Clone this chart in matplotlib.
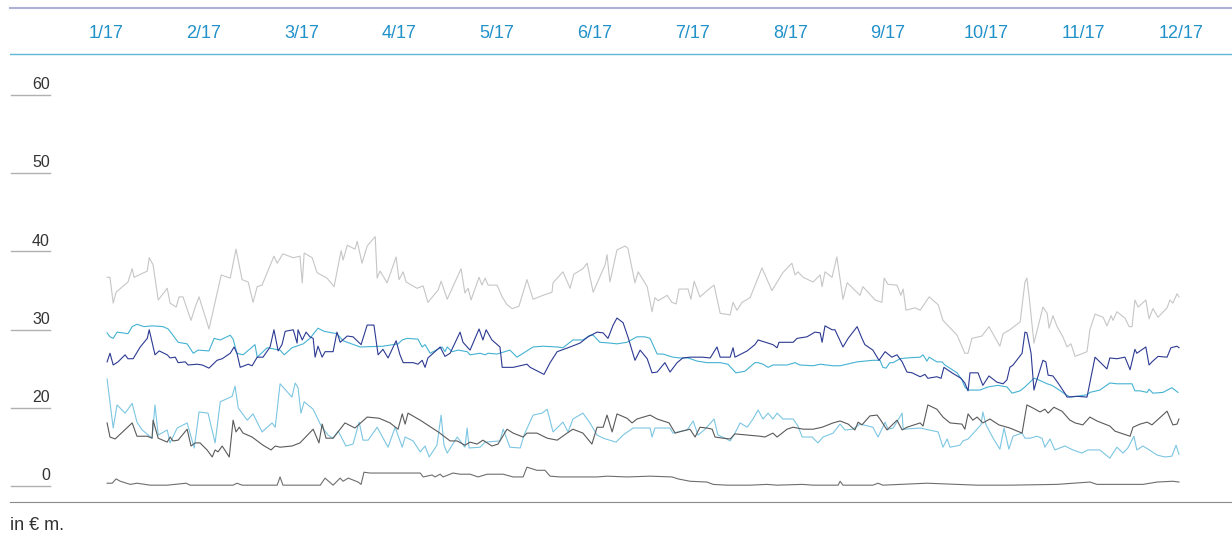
import numpy as np
import matplotlib
matplotlib.use('Agg')
from matplotlib import pyplot as plt

plt.rcParams['font.family'] = ['Liberation Sans', 'DejaVu Sans']

# x = day of the period (0 = 1/17), y = value in EUR m
gray_top = [(0.3, 36.7), (1.2, 36.7), (2.2, 33.4), (3.1, 34.8), (6.8, 36.1), (8.1, 37.8), (8.7, 36.7), (12.8, 37.5),
            (13.4, 39.2), (14.6, 38.3), (16.2, 33.8), (19.0, 35.3), (19.9, 33.4), (21.8, 32.9), (22.7, 34.2),
            (23.9, 34.2), (26.4, 31.2), (27.7, 32.9), (28.9, 34.2), (32.0, 30.1), (35.8, 37.0), (38.6, 36.6),
            (40.4, 40.3), (42.3, 36.4), (44.2, 36.1), (45.7, 33.5), (47.0, 35.5), (48.5, 35.7), (52.2, 39.4),
            (53.2, 38.5), (55.0, 39.7), (58.2, 39.2), (60.3, 39.4), (61.0, 36.0), (61.6, 39.8), (64.1, 39.2),
            (65.6, 37.3), (68.7, 36.6), (70.9, 35.5), (73.1, 40.1), (73.7, 38.9), (75.0, 40.8), (77.4, 40.3),
            (78.1, 41.3), (79.6, 38.5), (81.2, 40.7), (83.7, 41.9), (84.3, 36.6), (85.2, 37.5), (87.4, 36.0),
            (90.2, 39.3), (91.1, 36.4), (92.4, 37.4), (93.3, 36.1), (96.7, 35.3), (98.6, 35.6), (100.1, 33.5),
            (103.3, 35.1), (104.2, 36.2), (106.1, 33.9), (110.4, 37.8), (111.6, 34.7), (112.6, 35.3), (113.5, 33.8),
            (116.0, 36.7), (116.9, 35.7), (117.9, 36.6), (118.8, 35.7), (121.6, 35.7), (123.2, 34.2), (124.7, 33.2),
            (126.3, 32.7), (128.4, 33.0), (130.9, 36.4), (132.8, 33.9), (135.9, 34.4), (138.7, 34.8), (139.0, 36.0),
            (142.1, 37.4), (144.3, 35.3), (145.5, 37.1), (148.3, 37.8), (149.6, 38.5), (151.5, 34.8), (155.2, 38.3),
            (155.8, 39.6), (156.7, 36.1), (158.9, 40.2), (161.4, 40.7), (162.3, 40.4), (164.5, 36.0), (165.5, 37.4),
            (168.3, 35.5), (169.8, 32.3), (170.7, 34.1), (171.7, 33.7), (174.5, 34.4), (176.0, 33.5), (177.3, 33.3),
            (178.2, 35.2), (181.0, 35.2), (181.9, 33.9), (182.9, 36.2), (184.7, 34.2), (187.5, 35.2), (189.1, 35.7),
            (191.0, 32.1), (194.1, 31.9), (195.0, 33.5), (196.2, 32.5), (197.8, 33.5), (200.3, 34.1), (204.0, 37.9),
            (207.1, 35.0), (210.5, 37.3), (213.3, 38.5), (214.3, 37.0), (215.2, 37.4), (216.8, 36.7), (219.9, 36.1),
            (222.1, 37.0), (222.7, 35.5), (223.6, 37.4), (225.8, 36.7), (227.3, 39.3), (229.2, 33.9), (230.5, 36.0),
            (234.5, 34.4), (235.4, 35.5), (239.2, 33.8), (241.3, 33.5), (242.0, 36.6), (243.2, 35.8), (246.0, 35.7),
            (247.2, 34.4), (247.9, 35.2), (248.8, 32.5), (251.6, 32.8), (253.2, 32.5), (256.0, 34.2), (258.8, 33.2),
            (260.3, 31.2), (264.7, 29.3), (267.1, 27.0), (268.1, 27.0), (269.3, 28.9), (272.4, 29.2), (274.6, 30.4),
            (278.0, 27.9), (279.0, 29.5), (281.1, 30.0), (284.3, 31.0), (285.8, 36.1), (286.4, 36.6), (287.1, 34.2),
            (288.6, 28.3), (291.4, 32.9), (292.7, 32.1), (293.3, 30.2), (294.5, 31.8), (295.8, 30.4), (297.6, 29.1),
            (298.9, 27.8), (300.1, 28.2), (301.4, 26.6), (305.1, 27.2), (306.0, 30.0), (307.6, 32.0), (310.1, 31.6),
            (311.3, 30.5), (312.6, 31.8), (313.2, 31.2), (314.4, 32.3), (316.9, 31.5), (318.2, 30.4), (319.1, 30.4),
            (320.0, 33.8), (321.0, 32.9), (323.4, 33.8), (324.4, 31.4), (325.6, 32.7), (327.2, 31.6), (330.0, 32.8),
            (330.9, 33.8), (331.8, 33.4), (333.1, 34.6), (333.7, 34.2)]

teal = [(0.3, 29.6), (1.2, 29.1), (2.2, 28.9), (3.4, 29.7), (6.8, 29.5), (8.1, 30.4), (9.6, 30.7), (11.8, 30.4),
        (14.3, 30.5), (17.7, 30.4), (19.3, 30.1), (20.8, 29.3), (22.4, 28.4), (25.2, 28.2), (27.1, 27.0),
        (28.6, 27.4), (32.0, 27.3), (33.6, 28.9), (35.5, 28.7), (38.6, 29.3), (39.5, 28.8), (40.7, 27.0),
        (42.6, 26.8), (46.3, 28.1), (47.0, 26.5), (50.1, 27.7), (54.1, 27.4), (55.4, 26.8), (57.8, 27.7),
        (61.3, 28.2), (63.4, 28.9), (65.9, 30.2), (67.8, 29.8), (71.8, 29.5), (73.7, 28.6), (79.0, 27.8),
        (86.1, 27.9), (90.8, 28.2), (92.1, 28.7), (93.6, 28.9), (97.0, 28.8), (98.3, 27.8), (99.2, 28.1),
        (100.8, 27.0), (104.5, 27.8), (105.4, 27.2), (106.1, 27.8), (107.6, 27.2), (109.5, 27.4), (112.3, 27.2),
        (113.2, 26.8), (116.3, 27.0), (117.9, 26.8), (118.8, 27.0), (121.6, 26.9), (125.6, 27.4), (127.8, 26.5),
        (129.7, 27.0), (132.8, 27.8), (135.9, 27.9), (140.3, 27.8), (142.1, 27.7), (145.2, 28.7), (148.3, 28.7),
        (150.5, 29.3), (151.5, 29.3), (153.6, 28.4), (156.7, 28.3), (158.9, 28.2), (162.0, 28.4), (165.1, 29.1),
        (167.6, 29.1), (169.2, 28.9), (171.4, 26.9), (173.2, 26.9), (176.3, 26.5), (178.5, 26.4), (181.0, 26.4),
        (183.8, 26.0), (186.9, 25.8), (191.0, 25.8), (193.4, 25.6), (195.9, 24.5), (198.7, 24.7), (201.8, 25.8),
        (202.8, 25.8), (204.3, 25.6), (205.9, 25.2), (207.4, 25.5), (211.8, 25.5), (214.3, 25.8), (215.8, 25.5),
        (219.9, 25.4), (222.1, 25.6), (226.1, 25.4), (228.3, 25.4), (233.6, 25.9), (238.5, 26.1), (240.7, 26.1),
        (241.6, 25.2), (242.6, 25.1), (243.8, 25.8), (244.8, 25.8), (246.9, 26.3), (249.1, 26.4), (253.2, 26.5),
        (254.1, 26.8), (255.3, 26.0), (256.0, 26.5), (258.4, 25.9), (260.0, 25.9), (260.9, 25.5), (264.7, 24.5),
        (266.2, 23.6), (267.1, 22.7), (268.1, 22.3), (271.8, 22.3), (274.3, 22.7), (277.4, 22.9), (280.2, 22.7),
        (281.8, 21.9), (284.3, 22.2), (285.8, 22.7), (288.6, 23.8), (289.5, 23.7), (292.7, 23.1), (294.2, 22.9),
        (296.1, 22.4), (298.2, 21.8), (299.8, 21.4), (302.0, 21.5), (305.1, 21.7), (306.0, 22.0), (309.1, 22.3),
        (312.2, 23.2), (314.4, 23.1), (319.1, 23.1), (320.0, 22.2), (321.6, 22.2), (323.8, 22.0), (324.4, 22.4),
        (325.6, 21.9), (328.7, 22.0), (331.5, 22.6), (333.4, 22.0)]

navy = [(0.3, 25.9), (1.2, 27.0), (2.2, 25.5), (3.7, 25.9), (5.9, 26.8), (6.8, 26.3), (8.4, 26.3), (10.6, 27.8),
        (12.8, 28.9), (13.4, 30.0), (15.2, 26.8), (16.5, 27.3), (19.0, 26.8), (19.9, 26.4), (21.5, 26.5),
        (22.4, 25.8), (24.6, 25.9), (25.5, 25.5), (28.3, 25.6), (29.9, 25.5), (32.0, 25.1), (34.5, 26.1),
        (36.1, 26.3), (38.6, 27.0), (39.8, 27.8), (40.7, 27.0), (41.7, 25.2), (44.2, 25.6), (45.4, 25.4),
        (47.0, 26.5), (48.8, 26.5), (51.0, 27.8), (52.2, 30.0), (53.5, 27.3), (54.7, 28.1), (55.7, 29.8),
        (58.2, 30.0), (59.4, 28.3), (59.7, 30.0), (61.0, 28.7), (62.2, 29.7), (63.4, 29.1), (64.4, 28.9),
        (65.0, 26.5), (65.9, 27.9), (67.2, 26.5), (68.1, 27.2), (70.6, 27.2), (71.8, 29.7), (72.8, 28.4),
        (75.0, 29.2), (76.8, 29.1), (79.3, 28.1), (81.2, 30.6), (83.3, 30.6), (84.6, 26.8), (86.1, 27.5),
        (87.7, 26.4), (90.2, 28.6), (91.4, 26.8), (92.4, 25.8), (95.5, 25.8), (97.0, 25.6), (98.3, 26.1),
        (99.2, 25.2), (100.1, 26.4), (103.9, 27.8), (105.4, 26.6), (107.0, 27.0), (110.1, 29.7), (111.0, 28.4),
        (113.2, 27.4), (116.0, 30.1), (117.2, 28.7), (118.2, 30.0), (120.0, 28.7), (122.5, 27.8), (123.2, 25.2),
        (126.6, 25.2), (130.9, 25.6), (131.9, 25.2), (136.2, 24.3), (138.1, 25.8), (140.3, 27.2), (144.3, 27.8),
        (147.4, 28.3), (149.9, 29.1), (152.7, 29.7), (154.6, 29.6), (156.1, 28.9), (157.7, 30.6), (158.9, 31.5),
        (160.8, 30.9), (162.3, 29.1), (164.5, 26.1), (166.1, 27.4), (168.3, 26.3), (169.8, 24.5), (171.4, 24.6),
        (173.8, 25.8), (175.4, 24.6), (177.6, 25.8), (179.4, 26.4), (181.6, 26.5), (185.4, 26.5), (187.9, 26.4),
        (190.0, 27.8), (191.0, 26.5), (194.1, 26.5), (195.0, 27.7), (195.6, 26.5), (199.4, 27.3), (201.8, 28.1),
        (202.8, 28.7), (207.4, 28.1), (208.7, 27.7), (209.3, 28.4), (213.7, 28.4), (214.9, 28.9), (218.0, 29.1),
        (220.5, 29.7), (222.1, 29.6), (222.7, 28.4), (223.6, 30.5), (225.8, 30.0), (226.7, 30.0), (229.2, 27.8),
        (230.8, 28.9), (233.6, 30.4), (235.1, 28.9), (236.0, 28.1), (238.5, 27.4), (240.4, 26.1), (242.3, 27.2),
        (244.4, 26.5), (246.0, 26.8), (247.6, 25.9), (249.1, 24.6), (250.7, 24.5), (253.2, 24.0), (254.7, 24.3),
        (255.6, 23.8), (258.4, 24.0), (259.7, 23.8), (260.6, 25.2), (263.1, 24.5), (265.9, 23.8), (267.1, 23.2),
        (268.1, 22.2), (268.7, 24.5), (271.2, 24.5), (272.7, 22.9), (274.6, 24.1), (277.1, 23.3), (279.0, 23.1),
        (280.2, 23.6), (281.1, 25.2), (282.1, 25.5), (284.9, 27.0), (285.8, 29.7), (286.4, 29.6), (287.7, 27.0),
        (288.6, 22.3), (289.2, 23.2), (291.4, 26.1), (292.3, 25.9), (293.0, 24.2), (294.5, 24.1), (296.1, 23.2),
        (298.2, 21.9), (298.9, 21.4), (302.0, 21.5), (305.1, 21.4), (307.6, 26.5), (311.3, 25.0), (312.2, 26.4),
        (314.4, 26.3), (316.9, 26.5), (318.5, 24.9), (320.0, 27.5), (320.6, 27.0), (323.4, 27.8), (324.4, 25.5),
        (325.3, 25.9), (327.2, 26.6), (330.0, 26.5), (331.2, 27.7), (333.1, 27.9), (333.7, 27.7)]

light_blue = [(0.3, 23.7), (2.2, 14.9), (3.4, 20.4), (5.9, 18.7), (8.1, 20.6), (9.6, 16.4), (11.2, 14.4),
              (14.3, 12.3), (15.2, 20.4), (16.2, 13.1), (19.0, 14.4), (19.9, 11.1), (22.1, 14.9), (25.2, 16.2),
              (27.4, 9.8), (28.9, 19.0), (31.7, 18.7), (33.9, 11.1), (35.5, 20.8), (39.2, 21.5), (40.1, 22.8),
              (41.1, 20.0), (43.9, 16.9), (45.7, 18.5), (48.5, 13.9), (51.6, 16.2), (52.6, 15.1), (54.1, 23.1),
              (57.8, 21.4), (58.8, 23.2), (59.7, 22.6), (60.6, 18.7), (61.6, 20.8), (64.4, 19.7), (66.9, 15.4),
              (69.0, 13.1), (70.6, 12.3), (72.2, 14.1), (74.6, 10.3), (76.8, 10.8), (78.7, 16.4), (79.9, 11.8),
              (81.5, 11.8), (84.3, 15.1), (87.7, 10.0), (89.9, 15.1), (92.1, 10.0), (93.0, 12.6), (95.5, 11.6),
              (97.7, 8.8), (99.2, 10.3), (100.5, 7.5), (102.9, 10.5), (104.2, 18.2), (105.1, 10.5), (106.1, 8.5),
              (109.2, 12.6), (111.6, 10.0), (112.3, 14.9), (112.9, 9.8), (116.3, 10.0), (117.9, 11.3), (122.5, 11.6),
              (123.5, 14.6), (125.6, 10.0), (128.8, 9.8), (130.0, 13.1), (132.8, 18.2), (135.6, 18.7), (137.2, 19.7),
              (139.0, 13.9), (142.1, 16.4), (143.7, 13.9), (145.2, 17.2), (148.3, 18.7), (150.5, 16.2), (152.7, 13.1),
              (154.6, 12.3), (158.6, 11.3), (160.8, 13.1), (163.9, 14.9), (169.2, 14.9), (169.8, 12.6), (170.7, 14.9),
              (175.4, 14.9), (176.3, 13.6), (180.7, 14.4), (182.6, 16.7), (184.1, 13.1), (186.3, 14.6), (189.1, 17.2),
              (190.3, 13.1), (192.5, 12.3), (194.1, 11.6), (195.6, 13.6), (197.2, 16.2), (199.4, 15.1), (201.2, 17.2),
              (202.8, 19.5), (204.3, 17.2), (205.9, 18.7), (207.4, 17.2), (208.7, 18.7), (210.5, 17.2), (213.7, 17.2),
              (215.2, 15.4), (216.5, 12.6), (219.6, 12.6), (221.4, 11.1), (223.0, 12.6), (226.1, 13.6), (228.3, 15.9),
              (229.8, 14.4), (232.3, 14.6), (234.5, 15.9), (238.5, 15.1), (240.1, 12.6), (242.3, 16.4), (243.2, 14.6),
              (244.8, 14.9), (247.6, 18.7), (247.9, 14.6), (253.2, 14.9), (258.8, 13.9), (260.3, 10.0), (261.6, 12.1),
              (262.5, 10.0), (265.6, 10.5), (266.5, 11.6), (268.1, 12.1), (272.1, 15.7), (272.7, 19.0), (273.7, 15.7),
              (275.9, 12.3), (278.0, 9.5), (279.3, 14.9), (280.8, 9.5), (282.1, 12.8), (284.9, 13.6), (285.8, 12.3),
              (287.4, 12.3), (289.5, 12.8), (291.1, 12.3), (292.0, 10.0), (293.6, 12.1), (295.1, 9.3), (298.2, 10.3),
              (300.7, 9.3), (303.5, 8.5), (305.4, 9.3), (309.1, 9.3), (312.2, 7.2), (314.4, 10.0), (316.3, 8.5),
              (317.8, 9.8), (319.7, 12.8), (320.6, 9.3), (322.5, 10.3), (324.1, 9.5), (326.9, 8.0), (329.3, 7.5),
              (331.5, 7.7), (332.8, 10.5), (333.7, 8.2)]

dark_gray = [(0.3, 16.2), (1.2, 12.6), (2.8, 12.1), (8.1, 16.2), (9.6, 12.8), (12.8, 12.8), (14.3, 12.3),
             (14.6, 16.9), (16.2, 12.3), (19.0, 11.3), (19.9, 12.6), (20.8, 11.6), (22.4, 11.8), (25.2, 14.6),
             (26.4, 10.3), (27.7, 11.1), (29.2, 11.1), (31.4, 9.3), (33.0, 7.5), (33.9, 9.3), (34.8, 8.8),
             (36.1, 10.3), (38.3, 7.5), (39.5, 16.9), (40.4, 13.9), (41.4, 15.1), (42.6, 13.6), (45.4, 12.6),
             (48.8, 10.5), (51.3, 9.3), (52.6, 10.3), (54.1, 10.0), (57.8, 10.3), (60.3, 11.1), (64.4, 14.6),
             (66.2, 11.1), (67.2, 15.9), (68.4, 12.3), (70.6, 12.3), (74.3, 16.2), (77.4, 14.9), (81.2, 17.7),
             (84.9, 17.4), (88.3, 16.2), (90.8, 14.6), (92.1, 18.5), (93.0, 15.9), (93.9, 18.7), (97.7, 16.9),
             (103.3, 13.9), (107.0, 11.6), (109.2, 11.6), (111.6, 10.5), (113.2, 11.3), (115.4, 10.8), (117.2, 11.8),
             (120.0, 10.3), (121.9, 10.8), (124.7, 14.6), (126.6, 13.6), (129.7, 12.6), (130.9, 13.6), (134.0, 13.6),
             (137.2, 12.3), (140.3, 11.8), (143.4, 13.6), (145.2, 14.6), (148.3, 13.6), (151.1, 10.8), (152.7, 15.1),
             (154.6, 15.1), (155.8, 18.2), (157.4, 13.9), (158.9, 18.5), (162.0, 17.4), (163.6, 16.2), (165.1, 17.2),
             (169.2, 18.2), (171.4, 17.2), (175.1, 16.2), (177.0, 13.6), (179.1, 14.1), (181.6, 14.6), (183.2, 12.6),
             (184.7, 15.1), (186.9, 14.9), (188.5, 14.6), (189.4, 12.6), (191.9, 12.3), (194.1, 12.1), (195.6, 13.4),
             (199.4, 13.1), (203.4, 12.8), (204.9, 12.6), (207.4, 13.6), (208.7, 12.6), (211.8, 14.6), (213.7, 15.1),
             (216.8, 14.6), (219.9, 14.6), (222.7, 15.1), (226.1, 16.2), (228.3, 16.7), (230.8, 15.9), (232.9, 14.4),
             (233.9, 16.4), (235.1, 15.7), (237.6, 18.0), (239.8, 18.2), (240.7, 17.2), (242.9, 14.4), (246.0, 16.9),
             (247.6, 14.4), (249.1, 15.1), (253.2, 16.2), (254.1, 15.4), (255.6, 20.4), (258.4, 19.7), (260.3, 17.7),
             (262.5, 16.2), (266.2, 15.9), (267.1, 14.6), (268.1, 18.5), (269.6, 16.9), (270.9, 17.7), (272.7, 16.2),
             (274.9, 17.2), (277.7, 15.7), (281.1, 14.9), (284.9, 13.6), (286.4, 20.4), (288.3, 20.0), (290.5, 19.0),
             (292.0, 19.7), (293.0, 18.7), (294.8, 20.1), (297.3, 19.2), (299.8, 16.9), (301.4, 16.2), (303.8, 15.7),
             (306.0, 17.7), (308.2, 16.7), (312.2, 15.4), (313.8, 14.1), (318.5, 12.8), (319.4, 15.1), (321.6, 15.9),
             (323.8, 16.4), (325.3, 15.7), (326.9, 16.9), (330.0, 19.2), (331.8, 15.7), (333.1, 15.9), (333.7, 17.2)]

bottom_gray = [(0.3, 0.8), (1.9, 0.8), (3.1, 1.9), (4.4, 1.3), (7.5, 0.5), (9.6, 0.8), (13.7, 0.3), (19.0, 0.3),
               (24.9, 0.8), (26.1, 0.3), (39.5, 0.3), (40.7, 0.8), (42.3, 0.3), (53.2, 0.3), (54.1, 2.4),
               (55.0, 0.3), (66.6, 0.3), (68.1, 2.1), (70.6, 0.3), (72.8, 2.1), (73.7, 1.3), (75.3, 2.1), (78.4, 1.1),
               (79.3, 0.5), (80.2, 3.6), (82.1, 3.4), (85.2, 3.4), (91.4, 3.4), (97.7, 3.4), (98.6, 2.4),
               (101.4, 2.9), (102.3, 2.4), (103.9, 3.1), (104.8, 2.4), (107.9, 3.4), (110.1, 3.1), (113.2, 3.1),
               (115.7, 2.4), (118.5, 3.1), (123.5, 3.1), (126.6, 2.4), (129.7, 2.4), (130.9, 4.9), (134.0, 4.1),
               (136.5, 4.1), (138.1, 2.6), (141.2, 2.4), (148.3, 2.4), (152.7, 2.4), (155.8, 2.6), (162.0, 2.4),
               (169.2, 2.6), (176.0, 2.4), (177.9, 1.9), (181.6, 1.3), (186.9, 1.1), (188.8, 0.5), (193.1, 0.3),
               (200.3, 0.3), (205.6, 0.5), (208.7, 0.3), (216.5, 0.5), (219.9, 0.3), (227.7, 0.3), (228.3, 1.3),
               (229.2, 0.3), (238.5, 0.3), (240.1, 0.8), (241.6, 0.3), (255.3, 0.8), (270.9, 0.3), (281.1, 0.3),
               (295.8, 0.5), (306.0, 1.1), (308.2, 0.5), (322.5, 0.5), (326.9, 1.1), (331.8, 1.3), (333.7, 1.1)]

month_labels = ['1/17', '2/17', '3/17', '4/17', '5/17', '6/17', '7/17', '8/17', '9/17', '10/17', '11/17', '12/17']
month_pos = [i * 30.4 for i in range(12)]
y_ticks = [0, 20, 30, 40, 50, 60]


# the axis is squeezed below 20: the range 0-20 takes the space of 10 units
def fwd(v):
    v = np.asarray(v, dtype=float)
    return np.where(v >= 20, v, 10 + v / 2)


def inv(u):
    u = np.asarray(u, dtype=float)
    return np.where(u >= 20, u, (u - 10) * 2)


fig = plt.figure(figsize=(12.32, 5.38), dpi=100)
ax = fig.add_axes([10 / 1232, 36 / 538, 1222 / 1232, 494 / 538])
ax.set_yscale('function', functions=(fwd, inv))
ax.set_xlim(-29.9, 350.2)
ax.set_ylim(-4.0, 71.1)

series = [
    (gray_top, '#c6c6c6'),
    (light_blue, '#7cc6e2'),
    (dark_gray, '#5a5a5a'),
    (bottom_gray, '#6e6e6e'),
    (teal, '#45b2d2'),
    (navy, '#2c3a92'),
]
for pts, col in series:
    xs, ys = zip(*pts)
    ax.plot(xs, ys, color=col, lw=0.8)

# y labels with short rules under them
ytr = ax.get_yaxis_transform()
for v in y_ticks:
    ax.plot([0.0008, 0.0327], [v, v], transform=ytr, color='#b0b0b0', lw=1.0, clip_on=False)
    ax.annotate(str(v), xy=(0.0327, v), xycoords=ytr, xytext=(0, 4.3), textcoords='offset points',
                ha='right', va='baseline', fontsize=11.5, color='#333333')

# month header
xtr = ax.get_xaxis_transform()
for p, lab in zip(month_pos, month_labels):
    ax.text(p, 0.948, lab, transform=xtr, ha='center', va='center', fontsize=13, color='#2191c9')
ax.plot([0, 1], [0.9069, 0.9069], transform=ax.transAxes, color='#5db9d6', lw=1.0)

ax.set_xticks([])
ax.set_yticks([])
ax.yaxis.set_minor_locator(matplotlib.ticker.NullLocator())
for s in ['left', 'right']:
    ax.spines[s].set_visible(False)
ax.spines['top'].set_color('#aeb0d6')
ax.spines['top'].set_linewidth(1.5)
ax.spines['bottom'].set_color('#8a8a8a')
ax.spines['bottom'].set_linewidth(0.8)

fig.text(10 / 1232, (538 - 525) / 538, 'in € m.', ha='left', va='center', fontsize=13, color='#333333')

fig.savefig('out.png', dpi=100)
